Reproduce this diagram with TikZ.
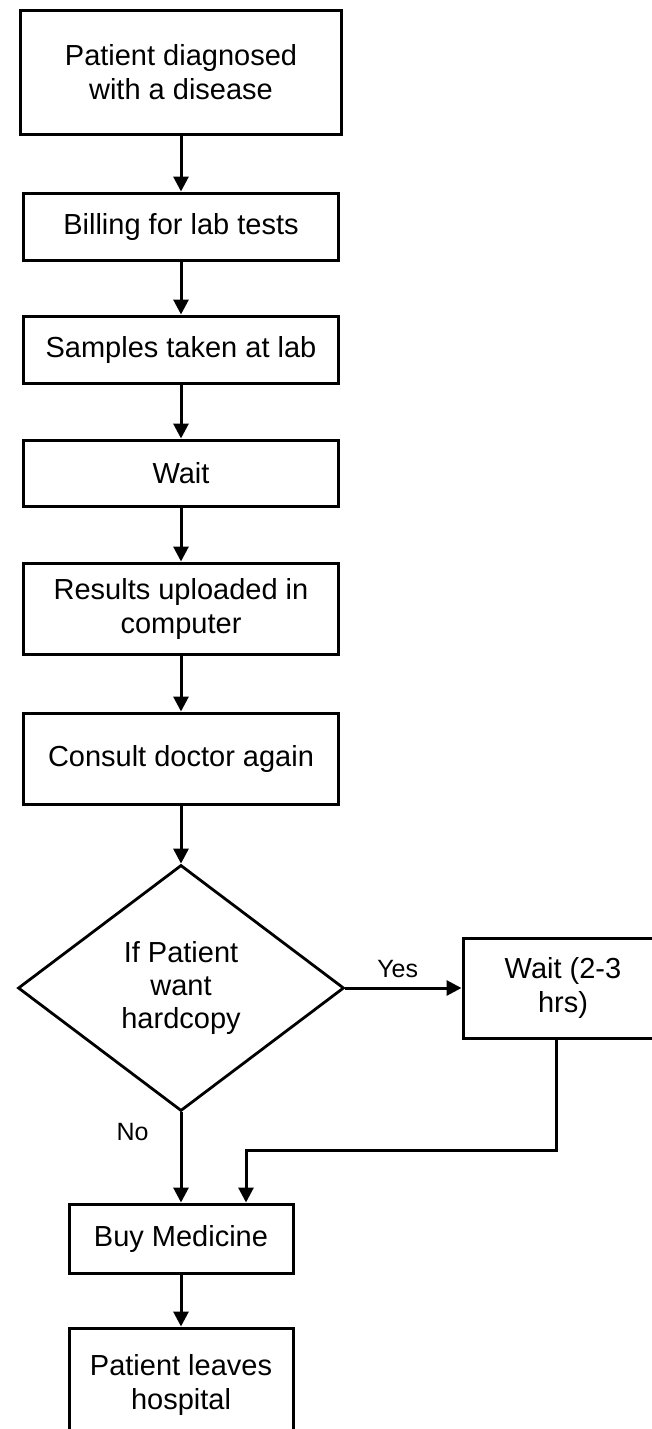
\documentclass[tikz,border=0pt]{standalone}
\usepackage{fontspec}
\setmainfont{Liberation Sans}
\usetikzlibrary{positioning,shapes.geometric,arrows.meta}

\tikzset{
	box/.style={draw, line width=3pt, align=center, font=\fontsize{29}{34}\selectfont,
		minimum width=315pt, minimum height=67pt, inner sep=0pt},
	choice/.style={draw, diamond, line width=2.8pt, align=center, font=\fontsize{29}{33}\selectfont,
		minimum width=326pt, minimum height=246pt, inner sep=0pt},
	answer/.style={font=\fontsize{25}{28}\selectfont, inner sep=2pt}
}

\begin{document}
\begin{tikzpicture}[node distance=123pt, on grid, >={Triangle[length=15pt,width=15pt]}]
	\useasboundingbox (0,0) rectangle (651pt,-1429pt);
	\node[box, minimum width=321pt, minimum height=123pt] (0) at (181pt,-72.5pt) {Patient diagnosed\\with a disease};
	\node[box] (1) [below=154pt of 0] {Billing for lab tests};
	\node[box] (2) [below=of 1] {Samples taken at lab};
	\node[box, minimum height=66pt] (3) [below=123.5pt of 2] {Wait};
	\node[box, minimum height=91pt] (4) [below=135.5pt of 3] {Results uploaded in\\computer};
	\node[box, minimum height=91pt] (5) [below=150pt of 4] {Consult doctor again};
	\node[choice] (6) [below=229.5pt of 5] {If Patient\\want\\hardcopy};
	\node[box, minimum width=200pt, minimum height=100pt] (7) [right=382pt of 6] {Wait (2-3\\hrs)};
	\node[box, minimum width=224pt, minimum height=69pt] (8) [below=250.5pt of 6] {Buy Medicine};
	\node[box, minimum width=224pt, minimum height=114pt] (9) [below=146.5pt of 8] {Patient leaves\\hospital};

	\path[->, line width=3pt]
		(0) edge (1)
		(1) edge (2)
		(2) edge (3)
		(3) edge (4)
		(4) edge (5)
		(5) edge (6)
		(6) edge node[answer, above=7pt, pos=0.45] {Yes} (7)
		(6) edge node[answer, left=29pt, pos=0.22] {No} (8)
		(8) edge (9);
	\draw[->, line width=3pt] ([xshift=-7pt]7.south) -- ++(0,-111pt) -| ([xshift=65pt]8.north);
\end{tikzpicture}
\end{document}
